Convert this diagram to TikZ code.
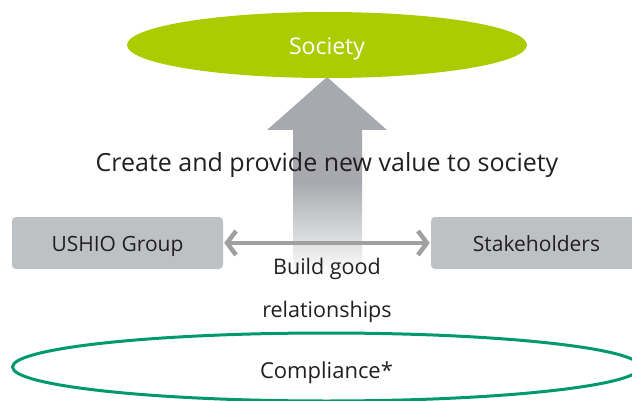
\documentclass[tikz,border=0pt]{standalone}
\usepackage{fontspec}
\setmainfont{Open Sans}
\usepackage{xcolor}
\usetikzlibrary{arrows.meta,shapes.geometric}

\definecolor{societygreen}{RGB}{170,204,0}
\definecolor{compliancegreen}{RGB}{0,153,110}
\definecolor{boxgray}{RGB}{190,193,195}
\definecolor{arrowgray}{RGB}{167,169,174}
\definecolor{linkgray}{RGB}{160,160,160}
\definecolor{textdark}{RGB}{35,31,32}

\begin{document}
\begin{tikzpicture}[x=1pt,y=-1pt,>={Straight Barb[length=9pt,width=24pt]},
  society node/.style={ellipse,fill=societygreen,minimum width=400pt,minimum height=66pt,text=white,text height=19pt,text depth=0pt,font=\fontsize{23}{26}\selectfont},
  compliance node/.style={ellipse,draw=compliancegreen,line width=3pt,minimum width=628pt,minimum height=68pt,text=textdark,text height=23pt,text depth=0pt,font=\fontsize{22}{26}\selectfont},
  party node/.style={rectangle,rounded corners=4pt,fill=boxgray,minimum width=211pt,minimum height=52pt,text=textdark,text height=16pt,text depth=0pt,font=\fontsize{21}{25}\selectfont},
  label node/.style={text=textdark,font=\fontsize{21.5}{25}\selectfont},
  link/.style={<->,linkgray,line width=4.5pt,shorten >=1pt,shorten <=1pt}]

  \useasboundingbox (0,0) rectangle (632,401);

  % upward value arrow, fading out at the bottom
  \fill[arrowgray] (293,182) -- (293,130) -- (267,130) -- (327,77) -- (387,130) -- (362,130) -- (362,182) -- cycle;
  \shade[top color=arrowgray,bottom color=white] (293,181) rectangle (362,276);

  \node[society node]    (1) at (327,45)  {Society};
  \node[party node]      (2) at (117.5,243) {USHIO Group};
  \node[party node]      (3) at (536.5,243) {Stakeholders};
  \node[compliance node] (4) at (326.5,367) {Compliance*};

  \node[text=textdark,font=\fontsize{25}{29}\selectfont] (5) at (327,165) {Create and provide new value to society};
  \node[label node] (6) at (327,269) {Build good};
  \node[label node] (7) at (327,312) {relationships};

  \draw[link] (2) -- (3);
\end{tikzpicture}
\end{document}
